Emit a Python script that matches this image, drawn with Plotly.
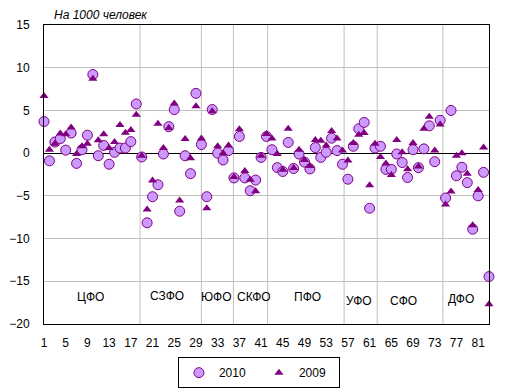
import plotly.graph_objects as go

regions = list(range(1, 84))
v2010 = [3.7, -0.9, 1.3, 1.7, 0.35, 2.35, -1.2, 0.4, 2.1, 9.2,
         -0.3, 0.9, -1.3, 0.1, 0.6, 0.6, 1.35, 5.75, -0.45, -8.15,
         -5.1, -3.7, -0.1, 3.1, 5.1, -6.8, -0.3, -2.4, 7.0, 1.0,
         -5.1, 5.1, 0.0, -0.8, 0.3, -2.9, 1.95, -2.9, -4.4, -3.15,
         -0.5, 1.95, 0.4, -1.7, -2.15, 1.25, -1.8, -0.1, -1.05, -1.85,
         0.65, -0.5, 0.1, 1.75, 0.3, -1.3, -3.05, 0.8, 2.85, 3.6,
         -6.45, 0.6, 0.8, -1.9, -1.9, -0.1, -1.1, -2.85, 0.4, -1.7,
         0.5, 3.2, -1.0, 3.85, -5.25, 5.0, -2.65, -1.65, -3.45, -8.9,
         -5.0, -2.25, -14.45]
v2009 = [6.7, 0.4, 1.1, 2.3, 2.2, 3.0, -0.1, 0.8, 1.1, 8.7,
         1.5, 2.2, 0.6, 1.3, 3.3, 2.4, 2.7, 4.5, -0.3, -6.6,
         -3.2, 3.45, 0.6, 2.95, 5.8, -5.55, 1.65, -0.6, 5.5, 1.7,
         -6.45, 4.9, 0.8, 0.0, 0.9, -2.8, 2.8, -2.1, -3.1, -4.45,
         -0.3, 2.25, 1.7, -0.1, -1.95, 2.85, -1.75, 0.4, -0.8, -1.5,
         1.55, 1.45, 0.9, 2.6, 1.7, 0.3, -0.85, 1.2, 2.15, 2.35,
         -3.75, 1.1, -0.45, -1.2, -2.55, 1.55, 0.1, -1.9, 1.2, -1.55,
         2.85, 4.25, 0.3, 3.35, -6.0, -4.5, -0.3, 0.0, -2.4, -8.45,
         -4.3, 0.65, -17.7]
x_ticks = list(range(1, 83, 4))
y_ticks = [15, 10, 5, 0, -5, -10, -15, -20]
district_names = ["ЦФО", "СЗФО", "ЮФО", "СКФО", "ПФО", "УФО", "СФО", "ДФО"]
district_label_x = [9.5, 23.6, 32.7, 39.7, 49.5, 59.1, 67.2, 77.8]
district_label_y = [-16.8, -16.7, -16.8, -16.8, -16.8, -17.3, -17.3, -17.1]
district_bounds = [18.7, 30.0, 35.9, 42.2, 56.3, 62.4, 74.5]

FONT = "Arial, Liberation Sans, sans-serif"

fig = go.Figure()
fig.add_trace(go.Scatter(
    x=regions, y=v2010, mode="markers", name="2010",
    marker=dict(symbol="circle", size=10, color="#CC99FF",
                line=dict(color="#800080", width=1)),
    cliponaxis=False))
fig.add_trace(go.Scatter(
    x=regions, y=v2009, mode="markers", name="2009",
    marker=dict(symbol="triangle-up", size=8, color="#800080",
                line=dict(width=0)),
    cliponaxis=False))

for b in district_bounds:
    fig.add_shape(type="line", xref="x", yref="y", x0=b, x1=b, y0=-20, y1=15,
                  line=dict(color="#C0C0C0", width=1), layer="below")

for name, lx, ly in zip(district_names, district_label_x, district_label_y):
    fig.add_annotation(x=lx, y=ly, xref="x", yref="y", text=name,
                       showarrow=False, font=dict(family=FONT, size=12, color="black"))

fig.add_annotation(x=0.018, y=1.0, xref="paper", yref="paper", yanchor="bottom",
                   xanchor="left", yshift=1,
                   text="<i>На 1000 человек</i>", showarrow=False,
                   font=dict(family=FONT, size=12, color="black"))

# page body has an 8px default margin; figure sized to fill the remaining window
fig.update_layout(
    width=505, height=382,
    margin=dict(l=36, r=24, t=17, b=66, autoexpand=False),
    paper_bgcolor="white", plot_bgcolor="white",
    font=dict(family=FONT, size=12, color="black"),
    showlegend=True,
    legend=dict(orientation="h", x=0.483, xanchor="center",
                yref="container", y=0.086, yanchor="top",
                bordercolor="black", borderwidth=1, font=dict(size=12),
                entrywidth=35, tracegroupgap=0),
    xaxis=dict(range=[1, 83], tickvals=x_ticks, showgrid=False, zeroline=False,
               showline=True, linecolor="black", linewidth=1, mirror=True,
               ticks="", ticklabelstandoff=8, automargin=False),
    yaxis=dict(range=[-20, 15], tickvals=y_ticks, showgrid=True, gridcolor="#C0C0C0",
               gridwidth=1, zeroline=True, zerolinecolor="black", zerolinewidth=1,
               showline=True, linecolor="black", linewidth=1, mirror=True,
               ticks="", ticklabelstandoff=11, automargin=False),
)

fig.write_html("out.html")
